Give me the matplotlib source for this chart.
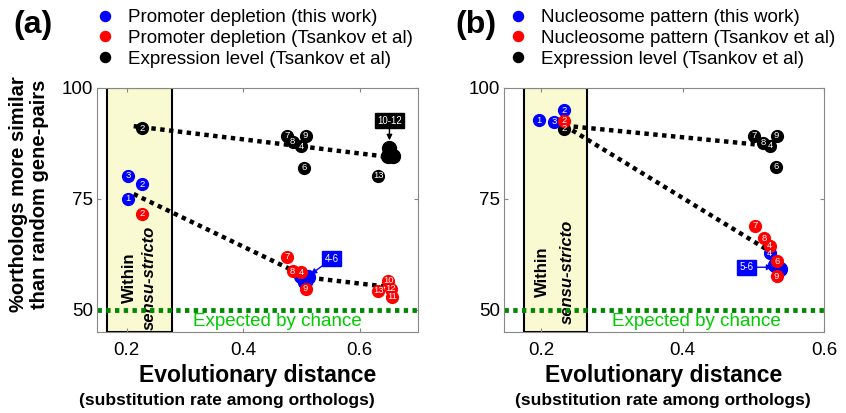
import matplotlib
matplotlib.use("Agg")
import matplotlib.pyplot as plt
from matplotlib.patches import Rectangle

plt.rcParams['font.family'] = ['Liberation Sans', 'DejaVu Sans']

# ---- panel (a): promoter depletion ----
a_blue_lab = ['1', '2', '3']
a_blue_x = [0.202, 0.227, 0.202]
a_blue_y = [75.0, 78.3, 80.2]
a_blue_grp_x = [0.499, 0.511, 0.506]      # orthologs 4-6
a_blue_grp_y = [57.6, 57.4, 56.2]

a_red_lab = ['2', '7', '8', '4', '9', '10', '13', '12', '11']
a_red_x = [0.227, 0.475, 0.485, 0.500, 0.507, 0.649, 0.632, 0.653, 0.655]
a_red_y = [71.6, 62.0, 58.7, 58.5, 54.8, 56.6, 54.3, 54.7, 53.0]

a_blk_lab = ['2', '7', '9', '8', '4', '6', '13']
a_blk_x = [0.226, 0.475, 0.507, 0.485, 0.500, 0.504, 0.632]
a_blk_y = [90.9, 89.2, 89.2, 87.9, 86.9, 82.0, 80.2]
a_blk_grp_x = [0.651, 0.648, 0.657]       # orthologs 10-12
a_blk_grp_y = [86.4, 84.7, 84.7]

a_trend_top_x = [0.212, 0.641]
a_trend_top_y = [91.4, 84.6]
a_trend_low_x = [0.212, 0.510, 0.641]
a_trend_low_y = [76.1, 57.3, 55.3]

# ---- panel (b): nucleosome pattern ----
b_blue_lab = ['1', '3', '2', '4']
b_blue_x = [0.197, 0.218, 0.232, 0.523]
b_blue_y = [92.7, 92.4, 95.0, 62.7]
b_blue_grp_x = [0.531, 0.538]             # orthologs 5-6
b_blue_grp_y = [60.2, 59.3]

b_red_lab = ['2', '7', '8', '4', '6', '9']
b_red_x = [0.232, 0.502, 0.515, 0.523, 0.533, 0.533]
b_red_y = [92.6, 68.9, 66.1, 64.4, 61.0, 57.6]

b_blk_lab = ['2', '7', '9', '8', '4', '6']
b_blk_x = [0.232, 0.501, 0.533, 0.514, 0.524, 0.532]
b_blk_y = [90.8, 89.2, 89.2, 87.7, 87.0, 82.2]

b_trend_top_x = [0.233, 0.502]
b_trend_top_y = [91.5, 87.3]
b_trend_low_x = [0.233, 0.519]
b_trend_low_y = [91.5, 63.6]

chance = 50
yticks = [50, 75, 100]
xticks = [0.2, 0.4, 0.6]
YMIN, YMAX = 45.0, 100

BLUE, RED, BLK = '#0000ff', '#ff0000', '#000000'

fig = plt.figure(figsize=(8.46, 4.13), dpi=100)
axa = fig.add_axes([97/846, 81/413, 321/846, 244/413])
axb = fig.add_axes([504/846, 81/413, 320/846, 244/413])


def dots(ax, xs, ys, labs, color, name=None, ms=8.5):
    ax.plot(xs, ys, 'o', color=color, ms=ms, mec=color, label=name, zorder=4)
    if labs:
        for x, y, t in zip(xs, ys, labs):
            ax.text(x, y, t, color='white', fontsize=6.8, ha='center',
                    va='center', zorder=5)


def setup(ax, xlim, box, within_y, chance_x):
    ax.set_xlim(*xlim)
    ax.set_ylim(YMIN, YMAX)
    ax.set_xticks(xticks)
    ax.set_xticklabels(['0.2', '0.4', '0.6'])
    ax.set_yticks(yticks)
    ax.tick_params(direction='in', length=3, color='#888888', labelsize=13.5,
                   top=True, right=True)
    ax.tick_params(axis='x', pad=7)
    ax.tick_params(axis='y', pad=3)
    for s in ax.spines.values():
        s.set_color('#888888')
        s.set_linewidth(0.8)
    ax.add_patch(Rectangle((box[0], YMIN), box[1] - box[0], YMAX - YMIN,
                           fc='#fafad2', ec='black', lw=1.5, zorder=1))
    cx = (box[0] + box[1]) / 2
    ax.text(cx - 0.018, within_y, 'Within', rotation=90, fontsize=12,
            fontweight='bold', ha='center', va='center', zorder=2)
    ax.text(cx + 0.016, within_y, 'sensu-stricto', rotation=90, fontsize=12,
            fontweight='bold', style='italic', ha='center', va='center',
            zorder=2)
    ax.axhline(chance, color='#008800', lw=3.5, ls=(0, (0.9, 0.9)), zorder=2)
    ax.text(chance_x, 47.3, 'Expected by chance', color='#00cc00',
            fontsize=13.5, ha='center', va='center', zorder=2)
    ax.set_xlabel('Evolutionary distance', fontsize=16.5, fontweight='bold',
                  labelpad=4)


def trend(ax, xs, ys):
    ax.plot(xs, ys, color='black', lw=3.2, ls=(0, (1, 1)), zorder=3)


def tag(ax, text, color, xy, xytext):
    ax.annotate(text, xy=xy, xytext=xytext, color='white', fontsize=7,
                ha='center', va='center', zorder=6,
                bbox=dict(boxstyle='square,pad=0.25', fc=color, ec=color),
                arrowprops=dict(arrowstyle='-|>', color=color, lw=1,
                                mutation_scale=8, shrinkA=0, shrinkB=0))


# panel (a)
setup(axa, (0.149, 0.70), (0.167, 0.277), 57.3, 0.458)
trend(axa, a_trend_top_x, a_trend_top_y)
trend(axa, a_trend_low_x, a_trend_low_y)
dots(axa, a_blk_x, a_blk_y, a_blk_lab, BLK, 'Expression level (Tsankov et al)')
dots(axa, a_blk_grp_x, a_blk_grp_y, None, BLK, ms=10)
dots(axa, a_blue_grp_x, a_blue_grp_y, None, BLUE, ms=10)
dots(axa, a_red_x, a_red_y, a_red_lab, RED, 'Promoter depletion (Tsankov et al)')
dots(axa, a_blue_x, a_blue_y, a_blue_lab, BLUE, 'Promoter depletion (this work)')
tag(axa, '10-12', BLK, (0.651, 88.2), (0.651, 92.6))
tag(axa, '4-6', BLUE, (0.516, 58.0), (0.552, 61.5))

# panel (b)
setup(axb, (0.147, 0.60), (0.175, 0.265), 58.5, 0.42)
trend(axb, b_trend_top_x, b_trend_top_y)
trend(axb, b_trend_low_x, b_trend_low_y)
dots(axb, b_blk_x, b_blk_y, b_blk_lab, BLK, 'Expression level (Tsankov et al)')
dots(axb, b_blue_grp_x, b_blue_grp_y, None, BLUE, ms=10)
dots(axb, b_blue_x, b_blue_y, b_blue_lab, BLUE, 'Nucleosome pattern (this work)')
dots(axb, b_red_x, b_red_y, b_red_lab, RED, 'Nucleosome pattern (Tsankov et al)')
tag(axb, '5-6', BLUE, (0.527, 59.6), (0.49, 59.6))

# legends above each panel, blue / red / black order
for ax, x0 in ((axa, 96), (axb, 509)):
    h, l = ax.get_legend_handles_labels()
    order = [l.index(s) for s in l if 'this work' in s] + \
            [i for i, s in enumerate(l) if 'Tsankov' in s and 'Expression' not in s] + \
            [l.index(s) for s in l if 'Expression' in s]
    ax.legend([h[i] for i in order], [l[i] for i in order], loc='upper left',
              bbox_to_anchor=(x0/846, 1 - 9/413), bbox_transform=fig.transFigure,
              frameon=False, fontsize=13.5, borderpad=0, borderaxespad=0,
              handlelength=1.0, handletextpad=0.7, labelspacing=0.2,
              markerscale=0.85)

fig.text(33/846, 1 - 25/413, '(a)', fontsize=23, fontweight='bold',
         ha='center', va='center')
fig.text(476/846, 1 - 25/413, '(b)', fontsize=23, fontweight='bold',
         ha='center', va='center')
fig.text(29/846, 1 - 194/413, '%orthologs more similar\nthan random gene-pairs',
         rotation=90, fontsize=14.5, fontweight='bold', ha='center', va='center',
         linespacing=1.1)
for xc in (227, 663):
    fig.text(xc/846, 1 - 400/413, '(substitution rate among orthologs)',
             fontsize=12.5, fontweight='bold', ha='center', va='center')

fig.savefig('out.png', dpi=100)
